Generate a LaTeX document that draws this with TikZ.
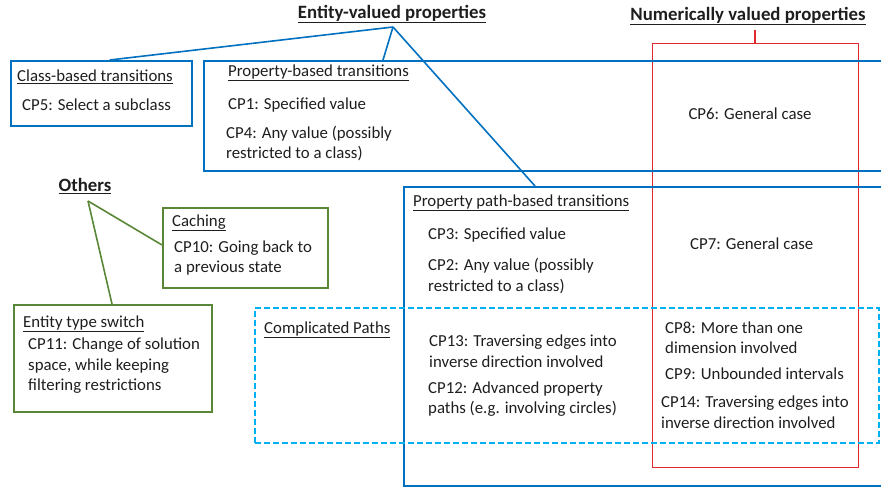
\documentclass[tikz,border=0pt]{standalone}
\usepackage{fontspec}
\setmainfont{Carlito}
\definecolor{eblue}{RGB}{0,112,192}
\definecolor{nred}{RGB}{225,40,45}
\definecolor{ogreen}{RGB}{90,135,55}
\definecolor{pcyan}{RGB}{0,176,240}
\definecolor{txt}{RGB}{30,30,30}
\begin{document}
\begin{tikzpicture}[x=1pt,y=-1pt,
  box/.style={draw,rectangle,inner sep=0pt,anchor=north west},
  bluebox/.style={box,draw=eblue,line width=2.4pt},
  redbox/.style={box,draw=nred,line width=1.4pt},
  greenbox/.style={box,draw=ogreen,line width=1.6pt},
  dashbox/.style={box,draw=pcyan,line width=1.6pt,dash pattern=on 6pt off 3pt},
  lbl/.style={inner sep=0pt,anchor=west,align=left,text=txt,font=\fontsize{16.8}{20.5}\selectfont},
  ttl/.style={inner sep=0pt,text=txt,font=\bfseries\fontsize{18.8}{22}\selectfont},
  bline/.style={draw=eblue,line width=1.6pt},
  gline/.style={draw=ogreen,line width=1.6pt},
  rline/.style={draw=nred,line width=1.4pt}]
\useasboundingbox (0,0) rectangle (881,489);
% boxes
\node[redbox,minimum width=206pt,minimum height=424pt] (num) at (652,43) {};
\node[bluebox,minimum width=181pt,minimum height=65pt] (cb) at (10,60) {};
\node[bluebox,minimum width=720pt,minimum height=110pt] (pb) at (203,60) {};
\node[bluebox,minimum width=520pt,minimum height=299pt] (ppb) at (403,186) {};
\node[dashbox,minimum width=624pt,minimum height=135pt] (cp) at (254,307) {};
\node[greenbox,minimum width=165pt,minimum height=80pt] (cach) at (162,207) {};
\node[greenbox,minimum width=198pt,minimum height=107pt] (ets) at (13,304) {};
% titles
\node[ttl] (evp) at (392,14) {\underline{Entity-valued properties}};
\node[ttl] (nvp) at (748,16) {\underline{Numerically valued properties}};
\node[ttl] (oth) at (85,186) {\underline{Others}};
\coordinate (evpc) at (393,27);
\coordinate (nvpc) at (755,30);
\coordinate (othc) at (88,201);
% connectors
\draw[bline] (evpc) -- ([xshift=8pt]cb.north);
\draw[bline] (evpc) -- ([xshift=180pt]pb.north west);
\draw[bline] (evpc) -- ([xshift=132pt]ppb.north west);
\draw[rline] (nvpc) -- (num.north -| nvpc);
\draw[gline] (othc) -- ([yshift=-38pt]cach.north west);
\draw[gline] (othc) -- ([xshift=99pt]ets.north west);
% texts
\node[lbl] (t1) at (17,77) {\underline{Class-based transitions}};
\node[lbl] (t2) at (22,105) {CP5: Select a subclass};
\node[lbl] (t3) at (228,73) {\underline{Property-based transitions}};
\node[lbl] (t4) at (228,105) {CP1: Specified value};
\node[lbl] (t5) at (226,143.5) {CP4: Any value (possibly\\restricted to a class)};
\node[lbl,anchor=center] (t6) at (750,114) {CP6: General case};
\node[lbl] (t7) at (413,203) {\underline{Property path-based transitions}};
\node[lbl] (t8) at (428,235) {CP3: Specified value};
\node[lbl] (t9) at (428,276) {CP2: Any value (possibly\\restricted to a class)};
\node[lbl] (t10) at (690,244) {CP7: General case};
\node[lbl] (t11) at (264,330) {\underline{Complicated Paths}};
\node[lbl] (t12) at (429,351) {CP13: Traversing edges into\\inverse direction involved};
\node[lbl] (t13) at (428,399) {CP12: Advanced property\\paths (e.g. involving circles)};
\node[lbl] (t14) at (665,337.5) {CP8: More than one\\dimension involved};
\node[lbl] (t15) at (665,374) {CP9: Unbounded intervals};
\node[lbl] (t16) at (661,412) {CP14: Traversing edges into\\inverse direction involved};
\node[lbl] (t17) at (172,223) {\underline{Caching}};
\node[lbl] (t18) at (174,258) {CP10: Going back to\\a previous state};
\node[lbl] (t19) at (23,324) {\underline{Entity type switch}};
\node[lbl] (t20) at (28,366) {CP11: Change of solution\\space, while keeping\\filtering restrictions};
\end{tikzpicture}
\end{document}
